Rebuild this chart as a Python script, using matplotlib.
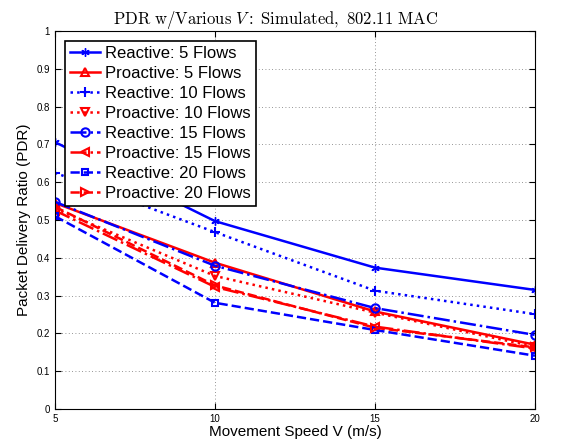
import numpy as np
import matplotlib.pyplot as plt

plt.rcParams['font.family'] = ['Liberation Sans', 'DejaVu Sans']
plt.rcParams['mathtext.fontset'] = 'cm'

speeds = [5, 10, 15, 20]

reactive_5 = [0.706, 0.497, 0.374, 0.315]
proactive_5 = [0.545, 0.387, 0.258, 0.170]
reactive_10 = [0.625, 0.468, 0.313, 0.251]
proactive_10 = [0.530, 0.352, 0.255, 0.165]
reactive_15 = [0.548, 0.379, 0.267, 0.196]
proactive_15 = [0.525, 0.323, 0.218, 0.160]
reactive_20 = [0.510, 0.281, 0.209, 0.141]
proactive_20 = [0.535, 0.327, 0.215, 0.163]

labels = ['Reactive: 5 Flows', 'Proactive: 5 Flows',
          'Reactive: 10 Flows', 'Proactive: 10 Flows',
          'Reactive: 15 Flows', 'Proactive: 15 Flows',
          'Reactive: 20 Flows', 'Proactive: 20 Flows']

series = [reactive_5, proactive_5, reactive_10, proactive_10,
          reactive_15, proactive_15, reactive_20, proactive_20]
# (colour, line style, marker, marker size, marker edge width)
styles = [('b', '-', (6, 2, 0), 6, 1.0), ('r', '-', '^', 6, 1.5),
          ('b', ':', '+', 7, 1.5), ('r', ':', 'v', 6, 1.5),
          ('b', '-.', 'o', 6, 1.5), ('r', '-.', '<', 6, 1.5),
          ('b', '--', 's', 5, 1.5), ('r', '--', '>', 6, 1.5)]

fig = plt.figure(figsize=(5.62, 4.47), dpi=100)
ax = fig.add_axes([0.0979, 0.085, 0.854, 0.8456])

for y, lab, (c, ls, m, ms, mew) in zip(series, labels, styles):
    ax.plot(speeds, y, color=c, linestyle=ls, marker=m, markersize=ms,
            markerfacecolor='none', markeredgewidth=mew, linewidth=1.8, label=lab)

ax.set_xlim(5, 20)
ax.set_ylim(0, 1)
ax.set_xticks(speeds)
ax.set_yticks(np.arange(0, 1.01, 0.1))
ax.set_yticklabels(['0', '0.1', '0.2', '0.3', '0.4', '0.5', '0.6', '0.7', '0.8', '0.9', '1'])
ax.tick_params(direction='in', labelsize=7, length=4, top=True, right=True)
ax.grid(True, linestyle=(0, (1, 3)), color='0.45', linewidth=0.6)

ax.set_xlabel('Movement Speed V (m/s)', fontsize=11, labelpad=1)
ax.set_ylabel('Packet Delivery Ratio (PDR)', fontsize=11, labelpad=4)
ax.set_title(r'$\mathrm{PDR\ w/Various\ }V\mathrm{:\ Simulated,\ 802.11\ MAC}$',
             fontsize=12, pad=5, x=0.46)

leg = ax.legend(loc='upper left', fontsize=12, fancybox=False, framealpha=1,
                edgecolor='black', handlelength=1.8, handletextpad=0.3,
                labelspacing=0.3, borderpad=0.3, borderaxespad=0.6)
leg.get_frame().set_linewidth(1.2)

fig.savefig('out.png', dpi=100)
